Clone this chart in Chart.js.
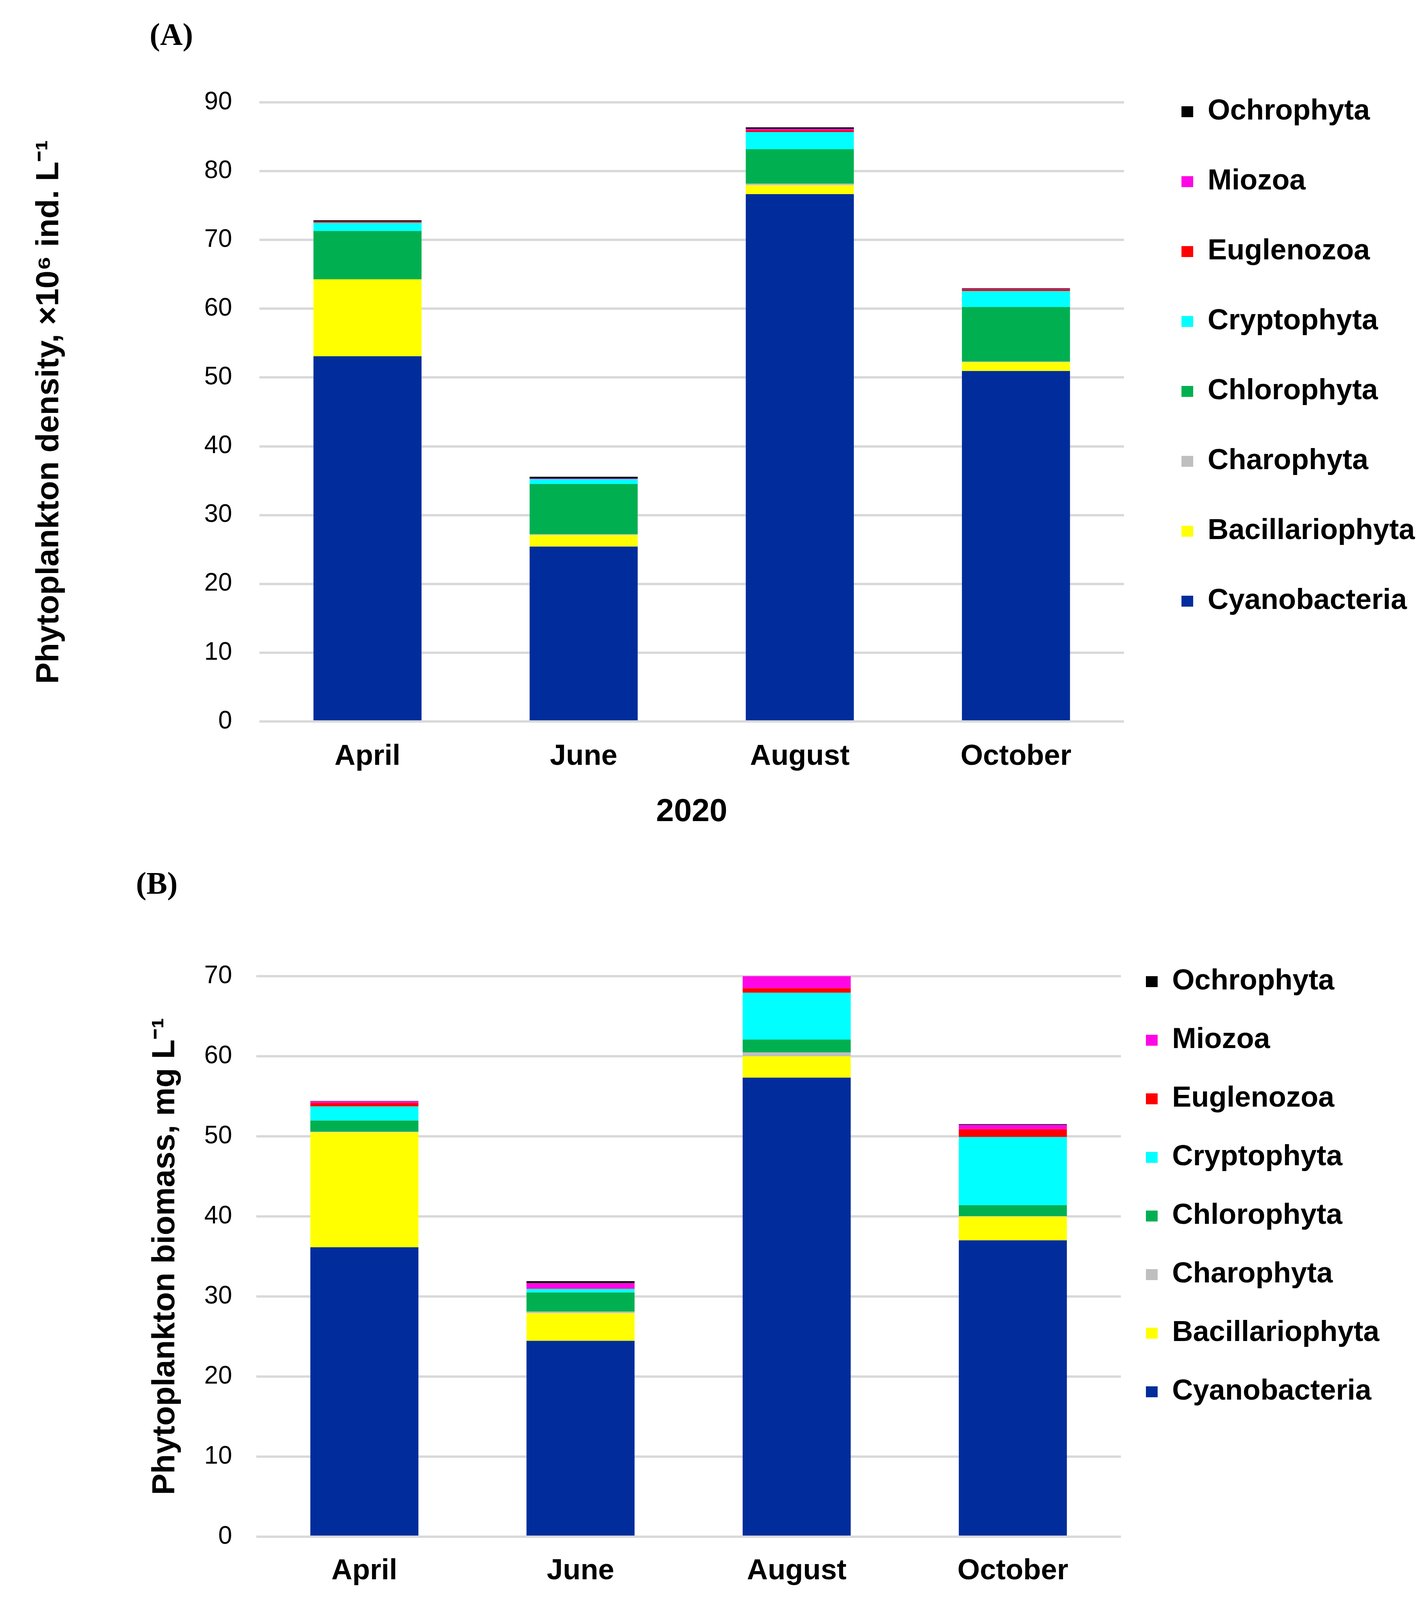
<!DOCTYPE html>
<html><head><meta charset="utf-8">
<script src="https://cdn.jsdelivr.net/npm/chart.js@4.4.1/dist/chart.umd.min.js"></script>
<style>
html,body{margin:0;padding:0;background:#fff;}
#wrap{position:relative;width:3655px;height:4205px;background:#fff;}
canvas{position:absolute;left:0;}
.tag{position:absolute;font-family:"Liberation Serif","Times New Roman",serif;font-weight:bold;font-size:80px;line-height:80px;color:#000;white-space:nowrap;}
</style></head><body>
<div id="wrap">
<canvas id="cA" style="top:0;width:3655px;height:2150px" width="3655" height="2150"></canvas>
<canvas id="cB" style="top:2150px;width:3655px;height:2055px" width="3655" height="2055"></canvas>
<div class="tag" style="left:383px;top:48px">(A)</div>
<div class="tag" style="left:348px;top:2221px">(B)</div>
</div>
<script>
const categories = ['April', 'June', 'August', 'October'];
const seriesNames = ['Cyanobacteria', 'Bacillariophyta', 'Charophyta', 'Chlorophyta', 'Cryptophyta', 'Euglenozoa', 'Miozoa', 'Ochrophyta'];
const seriesColors = ['#002d9b', '#ffff00', '#bfbfbf', '#00b050', '#00ffff', '#ff0000', '#ff06e6', '#000000'];

// Panel A: density, x10^6 ind. L-1
const densCyanobacteria   = [53.09, 25.43, 76.65, 50.95];
const densBacillariophyta = [11.19, 1.67, 1.30, 1.28];
const densCharophyta      = [0.00, 0.12, 0.23, 0.08];
const densChlorophyta     = [7.02, 7.31, 5.00, 7.94];
const densCryptophyta     = [1.19, 0.69, 2.50, 2.32];
const densEuglenozoa      = [0.17, 0.00, 0.23, 0.25];
const densMiozoa          = [0.02, 0.08, 0.23, 0.05];
const densOchrophyta      = [0.17, 0.27, 0.23, 0.10];

// Panel B: biomass, mg L-1
const bioCyanobacteria   = [36.15, 24.46, 57.33, 37.01];
const bioBacillariophyta = [14.35, 3.46, 2.67, 2.97];
const bioCharophyta      = [0.07, 0.19, 0.49, 0.05];
const bioChlorophyta     = [1.41, 2.39, 1.60, 1.37];
const bioCryptophyta     = [1.75, 0.44, 5.84, 8.52];
const bioEuglenozoa      = [0.44, 0.05, 0.58, 0.97];
const bioMiozoa          = [0.20, 0.68, 1.55, 0.54];
const bioOchrophyta      = [0.05, 0.25, 0.00, 0.10];

const densTicks = [0, 10, 20, 30, 40, 50, 60, 70, 80, 90];
const bioTicks = [0, 10, 20, 30, 40, 50, 60, 70];

const densSeries = [densCyanobacteria, densBacillariophyta, densCharophyta, densChlorophyta, densCryptophyta, densEuglenozoa, densMiozoa, densOchrophyta];
const bioSeries = [bioCyanobacteria, bioBacillariophyta, bioCharophyta, bioChlorophyta, bioCryptophyta, bioEuglenozoa, bioMiozoa, bioOchrophyta];

Chart.defaults.font.family = "'Liberation Sans', Arial, sans-serif";
Chart.defaults.color = '#000';

const legendPlace = {
  id: 'legendPlace',
  afterLayout(chart, args, opts) {
    const lg = chart.legend;
    if (!lg || opts.left == null) return;
    const h = lg.height;
    lg.left = opts.left; lg.right = chart.width;
    lg.top = opts.top; lg.bottom = opts.top + h;
  }
};

function makeChart(id, series, ticksArr, yTitle, g) {
  const datasets = series.map((d, i) => ({
    label: seriesNames[i],
    data: d,
    backgroundColor: seriesColors[i],
    borderWidth: 0,
    barPercentage: 0.5,
    categoryPercentage: 1.0
  }));
  return new Chart(document.getElementById(id), {
    type: 'bar',
    data: { labels: categories, datasets },
    plugins: [legendPlace],
    options: {
      responsive: false,
      devicePixelRatio: 1,
      animation: false,
      layout: { padding: { left: 0, right: g.padRight, top: g.padTop, bottom: g.padBottom } },
      scales: {
        x: {
          stacked: true,
          grid: { display: false, drawTicks: false },
          border: { display: false },
          ticks: { padding: g.xTickPad, font: { size: 74, weight: 'bold' }, color: '#000' },
          title: { display: true, text: '2020', color: '#000', font: { size: 82, weight: 'bold', lineHeight: 1 }, padding: { top: 0, bottom: 20 } },
          afterFit(s) { s.height = g.xHeight; }
        },
        y: {
          stacked: true,
          min: ticksArr[0],
          max: ticksArr[ticksArr.length - 1],
          afterBuildTicks(s) { s.ticks = ticksArr.map(v => ({ value: v })); },
          grid: { color: '#d9d9d9', lineWidth: 6, drawTicks: false },
          border: { display: false },
          ticks: { padding: g.yTickPad, font: { size: 64 }, color: '#000' },
          title: { display: true, text: yTitle, color: '#000', font: { size: 82, weight: 'bold', lineHeight: 1 }, padding: { top: g.yTitlePad, bottom: 0 } },
          afterFit(s) { s.width = g.yWidth; }
        }
      },
      plugins: {
        tooltip: { enabled: false },
        legend: {
          position: 'right',
          align: 'start',
          reverse: true,
          maxWidth: 600,
          labels: { boxWidth: 30, boxHeight: 28, padding: g.legPad, color: '#000', font: { size: 74, weight: 'bold' } }
        },
        legendPlace: { left: g.legLeft, top: g.legTop }
      }
    }
  });
}

makeChart('cA', densSeries, densTicks, 'Phytoplankton density, ×10⁶ ind. L⁻¹', {
  padRight: 178, padTop: 262, padBottom: 10, xTickPad: 46, xHeight: 293,
  yTickPad: 70, yTitlePad: 85, yWidth: 664, legPad: 105, legLeft: 2919, legTop: 144
});
makeChart('cB', bioSeries, bioTicks, 'Phytoplankton biomass, mg L⁻¹', {
  padRight: 186, padTop: 349, padBottom: 4, xTickPad: 44, xHeight: 267,
  yTickPad: 62, yTitlePad: 382, yWidth: 656, legPad: 76, legLeft: 2857, legTop: 250
});
</script>
</body></html>
